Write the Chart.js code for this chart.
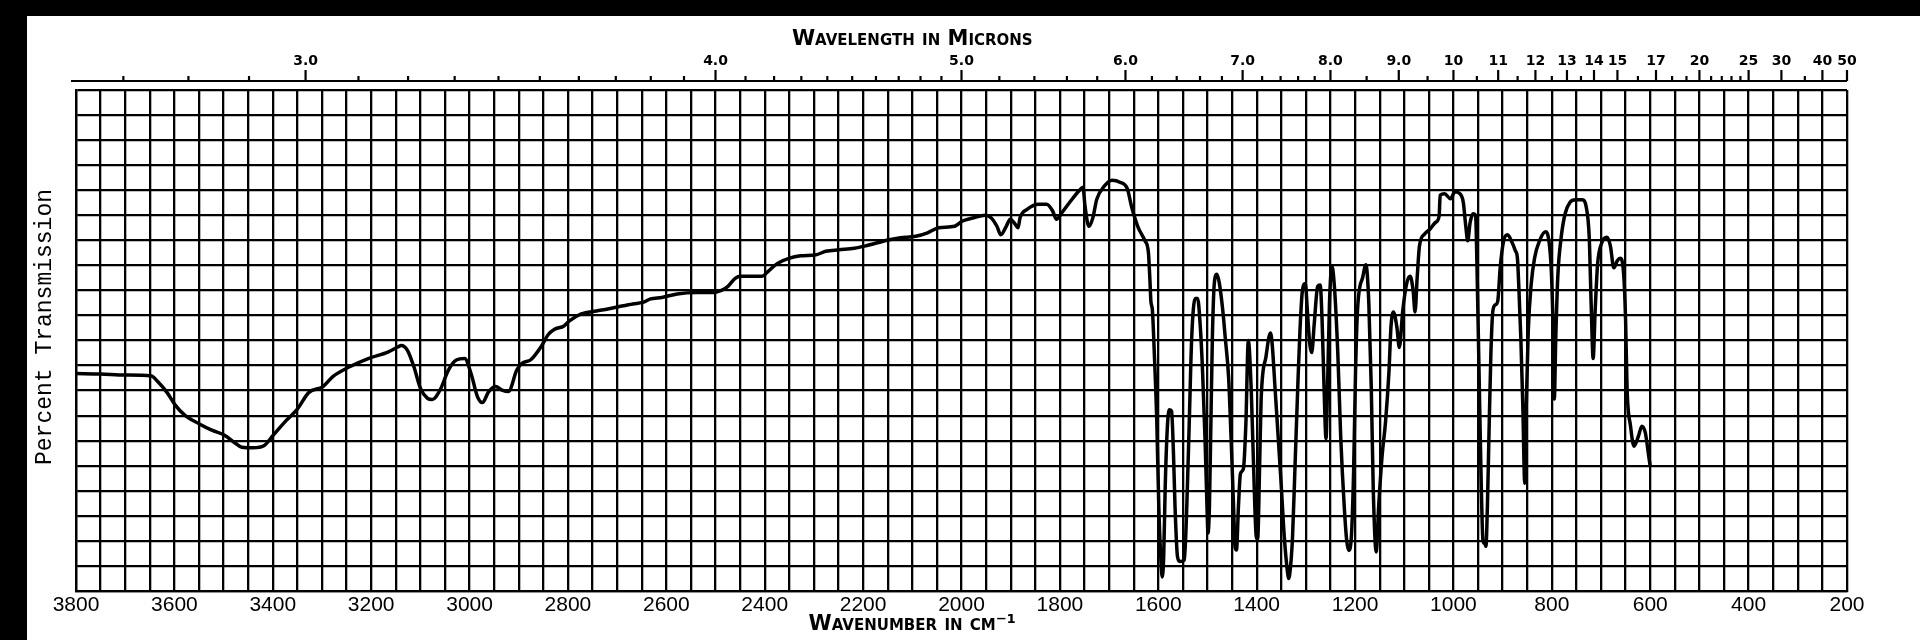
<!DOCTYPE html>
<html>
<head>
<meta charset="utf-8">
<title>Infrared spectrum</title>
<script src="https://cdn.jsdelivr.net/npm/chart.js@4.4.1/dist/chart.umd.min.js"></script>
<style>
  html, body { margin: 0; padding: 0; background: #fff; }
  #wrap { width: 1920px; height: 640px; }
</style>
</head>
<body>
<div id="wrap"><canvas id="spectrum" width="1920" height="640"></canvas></div>
<script>
// Spectrum trace (cm-1, % transmission)
var wavenumbers = [
  3800, 3750, 3700, 3647, 3634, 3614, 3599, 3579, 3550, 3524, 3498, 3476, 3463, 3440, 3418, 3399,
  3373, 3350, 3327, 3298, 3278, 3245, 3206, 3166, 3146, 3139, 3126, 3113, 3100, 3086, 3076, 3060,
  3043, 3027, 3010, 2997, 2984, 2974, 2961, 2947, 2934, 2921, 2904, 2894, 2875, 2855, 2840, 2828,
  2808, 2797, 2773, 2742, 2719, 2699, 2668, 2648, 2632, 2609, 2578, 2539, 2503, 2488, 2476, 2460,
  2449, 2406, 2394, 2374, 2351, 2327, 2296, 2276, 2249, 2218, 2194, 2171, 2147, 2124, 2093, 2069,
  2046, 2014, 1999, 1975, 1952, 1940, 1928, 1920, 1909, 1901, 1893, 1885, 1881, 1866, 1843, 1827,
  1815, 1807, 1796, 1780, 1761, 1753, 1749, 1741, 1733, 1725, 1709, 1694, 1678, 1663, 1654, 1641,
  1627, 1620, 1617, 1615, 1612, 1608, 1603, 1599, 1595, 1592, 1589, 1586, 1582, 1578, 1573, 1569,
  1566, 1561, 1556, 1547, 1542, 1537, 1532, 1525, 1520, 1515, 1510, 1505, 1501, 1499, 1496, 1493,
  1490, 1486, 1481, 1476, 1469, 1464, 1457, 1452, 1447, 1444, 1441, 1437, 1433, 1427, 1422, 1417,
  1411, 1406, 1401, 1398, 1394, 1391, 1381, 1372, 1361, 1350, 1344, 1337, 1335, 1331, 1327, 1322,
  1316, 1312, 1307, 1301, 1297, 1292, 1288, 1283, 1276, 1271, 1267, 1263, 1259, 1256, 1252, 1247,
  1242, 1235, 1229, 1222, 1217, 1213, 1208, 1203, 1199, 1195, 1184, 1178, 1172, 1167, 1163, 1157,
  1152, 1145, 1138, 1131, 1127, 1122, 1115, 1110, 1103, 1095, 1088, 1082, 1078, 1074, 1069, 1059,
  1048, 1036, 1029, 1027, 1018, 1006, 997, 987, 980, 975, 971, 966, 960, 955, 952, 948,
  944, 940, 936, 934, 931, 928, 924, 920, 915, 910, 905, 898, 890, 881, 874, 870,
  867, 863, 859, 855, 852, 848, 842, 835, 825, 813, 806, 801, 797, 795, 792, 788,
  781, 773, 763, 752, 738, 730, 724, 720, 716, 712, 707, 698, 688, 681, 674, 667,
  661, 654, 650, 647, 640, 633, 624, 617, 610, 603, 600
];
var transmission = [
  43.4, 43.3, 43.1, 42.9, 41.8, 39.5, 37.2, 35.1, 33.4, 32.1, 31.1, 29.5, 28.7, 28.6, 29.0, 31.1,
  34.0, 36.3, 39.6, 40.8, 42.8, 44.7, 46.4, 47.7, 48.7, 49.0, 48.0, 44.7, 40.5, 38.5, 38.2, 40.1,
  44.1, 46.1, 46.4, 43.4, 38.8, 37.6, 39.8, 40.8, 40.1, 39.8, 44.1, 45.4, 46.2, 48.7, 51.2, 52.2,
  52.9, 53.9, 55.3, 55.9, 56.3, 56.7, 57.3, 57.6, 58.3, 58.6, 59.3, 59.6, 59.6, 60.0, 60.7, 62.4,
  62.8, 62.8, 63.7, 65.4, 66.4, 66.9, 67.1, 67.8, 68.1, 68.4, 68.9, 69.5, 70.1, 70.5, 70.8, 71.5,
  72.5, 72.8, 73.8, 74.5, 75.0, 74.5, 72.8, 71.1, 72.8, 74.2, 73.5, 72.5, 74.5, 76.2, 77.2, 77.2,
  75.9, 74.2, 75.5, 77.6, 79.9, 80.6, 76.9, 72.8, 74.5, 78.2, 80.9, 82.0, 81.6, 80.3, 76.6, 72.6,
  69.9, 67.5, 62.1, 57.8, 56.1, 47.3, 33.8, 17.0, 6.9, 2.8, 6.9, 20.4, 31.8, 36.2, 35.9, 27.1,
  17.0, 6.9, 5.9, 6.2, 17.0, 33.8, 50.7, 58.4, 58.4, 53.4, 43.9, 30.5, 17.0, 11.6, 17.0, 33.8,
  50.7, 61.5, 63.2, 61.5, 56.1, 50.7, 42.6, 30.5, 17.0, 8.9, 8.2, 17.0, 23.4, 24.4, 33.2, 50.0,
  40.0, 24.0, 11.0, 10.3, 25.0, 38.0, 46.8, 51.5, 38.0, 21.0, 11.0, 3.5, 2.5, 5.0, 11.0, 25.0,
  42.0, 52.0, 60.0, 61.4, 56.0, 49.3, 47.6, 53.3, 60.8, 61.1, 54.0, 40.5, 30.4, 40.5, 57.4, 64.8,
  60.8, 47.3, 30.4, 16.9, 10.1, 8.1, 10.1, 23.6, 43.9, 56.0, 62.8, 65.1, 57.4, 40.5, 20.3, 7.8,
  16.9, 27.0, 33.8, 43.9, 52.7, 55.7, 52.7, 48.6, 56.0, 61.4, 62.8, 60.0, 55.7, 62.1, 68.9, 71.2,
  72.2, 73.6, 74.9, 79.0, 79.3, 78.3, 79.7, 79.3, 77.6, 72.9, 69.9, 73.6, 75.3, 74.9, 64.1, 43.9,
  23.6, 10.1, 9.4, 8.9, 16.8, 30.2, 47.0, 55.8, 57.1, 57.8, 64.5, 69.9, 71.1, 69.6, 67.9, 66.5,
  60.5, 50.4, 37.0, 21.5, 37.0, 51.7, 61.2, 66.5, 69.9, 71.7, 69.9, 63.8, 50.4, 38.3, 50.4, 62.5,
  70.6, 75.3, 77.6, 78.1, 78.1, 76.6, 70.6, 57.1, 46.4, 55.8, 65.2, 69.6, 70.6, 68.9, 64.5, 65.9,
  66.4, 63.2, 53.8, 40.3, 32.9, 28.9, 30.9, 32.9, 31.6, 26.9, 24.9
];

// Axis labels
var wavenumberLabels = [3800, 3600, 3400, 3200, 3000, 2800, 2600, 2400, 2200, 2000,
                        1800, 1600, 1400, 1200, 1000, 800, 600, 400, 200];
var micronLabels = [3, 4, 5, 6, 7, 8, 9, 10, 11, 12, 13, 14, 15, 17, 20, 25, 30, 40, 50];
var micronMinor = [2.7, 2.8, 2.9, 3.1, 3.2, 3.3, 3.4, 3.5, 3.6, 3.7, 3.8, 3.9,
                   4.1, 4.2, 4.3, 4.4, 4.5, 4.6, 4.7, 4.8, 4.9, 5.2, 5.4, 5.6, 5.8,
                   6.2, 6.4, 6.6, 6.8, 7.2, 7.4, 7.6, 7.8, 8.5, 9.5, 10.5, 11.5, 12.5,
                   13.5, 16, 18, 19, 21, 22, 23, 24, 35];

var gridLines = [];
for (var g = 200; g <= 3800; g += 50) gridLines.push(g);
var rowLines = [];
for (var r = 0; r <= 100; r += 5) rowLines.push(r);

// paper: white sheet, black scan border top and left
var paper = {
  id: 'paper',
  beforeDraw: function (chart) {
    var ctx = chart.ctx;
    ctx.save();
    ctx.fillStyle = '#fff';
    ctx.fillRect(0, 0, chart.width, chart.height);
    ctx.fillStyle = '#000';
    ctx.fillRect(0, 0, chart.width, 16);
    ctx.fillRect(0, 0, 27, chart.height);
    ctx.restore();
  }
};

// wavelength axis line with tick marks
var micronAxis = {
  id: 'micronAxis',
  afterDraw: function (chart) {
    var ctx = chart.ctx, area = chart.chartArea, s = chart.scales.xTop;
    var y = area.top - 9;
    ctx.save();
    ctx.strokeStyle = '#000';
    ctx.lineWidth = 2.2;
    ctx.beginPath();
    ctx.moveTo(area.left - 5, y);
    ctx.lineTo(area.right, y);
    micronLabels.forEach(function (m) {
      var x = s.getPixelForValue(10000 / m);
      ctx.moveTo(x, y);
      ctx.lineTo(x, y - 11);
    });
    micronMinor.forEach(function (m) {
      var x = s.getPixelForValue(10000 / m);
      ctx.moveTo(x, y);
      ctx.lineTo(x, y - 5);
    });
    ctx.stroke();
    ctx.restore();
  }
};

// axis titles
var titles = {
  id: 'titles',
  afterDraw: function (chart) {
    var ctx = chart.ctx;
    var cx = chart.scales.x.getPixelForValue(2100);
    ctx.save();
    ctx.fillStyle = '#000';
    ctx.textAlign = 'center';
    ctx.textBaseline = 'middle';
    ctx.font = 'small-caps bold 21px "DejaVu Sans"';
    if ('fontVariantCaps' in ctx) ctx.fontVariantCaps = 'small-caps';
    ctx.fillText('Wavelength in Microns', cx, 40);
    ctx.fillText('Wavenumber in cm\u207B\u00B9', cx, 625);
    if ('fontVariantCaps' in ctx) ctx.fontVariantCaps = 'normal';
    ctx.font = '23px "Liberation Mono"';
    ctx.translate(45, 327);
    ctx.rotate(-Math.PI / 2);
    ctx.fillText('Percent Transmission', 0, 0);
    ctx.restore();
  }
};

new Chart(document.getElementById('spectrum'), {
  type: 'line',
  data: {
    datasets: [{
      data: wavenumbers.map(function (w, i) { return { x: w, y: transmission[i] }; }),
      borderColor: '#000',
      borderWidth: 3.5,
      pointRadius: 0,
      cubicInterpolationMode: 'monotone',
      borderJoinStyle: 'round',
      fill: false
    }]
  },
  options: {
    responsive: false,
    animation: false,
    devicePixelRatio: 1,
    layout: { padding: { left: 0, top: 0, right: 73, bottom: 0 } },
    plugins: { legend: { display: false }, tooltip: { enabled: false } },
    scales: {
      x: {
        type: 'linear',
        position: 'bottom',
        min: 200,
        max: 3800,
        reverse: true,
        afterBuildTicks: function (scale) {
          scale.ticks = gridLines.map(function (v) { return { value: v }; });
        },
        afterFit: function (scale) { scale.height = 49; },
        grid: { color: '#000', lineWidth: 2.3, drawTicks: false },
        border: { color: '#000', width: 2.3 },
        ticks: {
          autoSkip: false,
          maxRotation: 0,
          padding: 2,
          color: '#000',
          font: { family: '"Liberation Sans", Arial, sans-serif', size: 21 },
          callback: function (v) { return wavenumberLabels.indexOf(v) >= 0 ? String(v) : ''; }
        }
      },
      xTop: {
        type: 'linear',
        position: 'top',
        min: 200,
        max: 3800,
        reverse: true,
        afterBuildTicks: function (scale) {
          scale.ticks = micronLabels.map(function (m) { return { value: 10000 / m }; });
        },
        afterFit: function (scale) { scale.height = 90; },
        grid: { display: false, drawTicks: false },
        border: { display: false },
        ticks: {
          autoSkip: false,
          maxRotation: 0,
          padding: 20,
          color: '#000',
          font: { family: '"DejaVu Sans", sans-serif', size: 14, weight: 'bold' },
          callback: function (v) {
            var m = 10000 / v;
            return m < 10 ? m.toFixed(1) : String(Math.round(m));
          }
        }
      },
      y: {
        min: 0,
        max: 100,
        afterBuildTicks: function (scale) {
          scale.ticks = rowLines.map(function (v) { return { value: v }; });
        },
        afterFit: function (scale) { scale.width = 76; },
        grid: { color: '#000', lineWidth: 2.3, drawTicks: false },
        border: { color: '#000', width: 2.3 },
        ticks: { display: false }
      }
    }
  },
  plugins: [paper, micronAxis, titles]
});
</script>
</body>
</html>
